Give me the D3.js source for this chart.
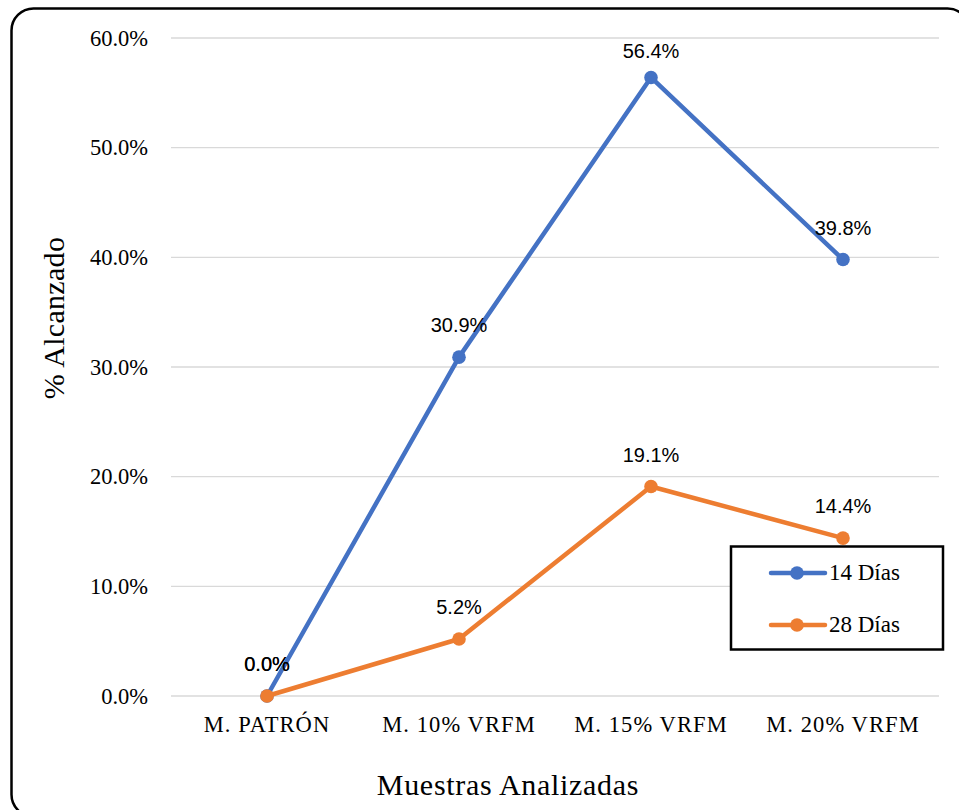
<!DOCTYPE html>
<html><head><meta charset="utf-8">
<script src="https://cdn.jsdelivr.net/npm/d3@7"></script>
<style>body{margin:0;background:#fff}svg{display:block}</style>
</head><body>
<script>
const categories = ["M. PATRÓN", "M. 10% VRFM", "M. 15% VRFM", "M. 20% VRFM"];
const series14 = [0.0, 30.9, 56.4, 39.8];
const series28 = [0.0, 5.2, 19.1, 14.4];
const seriesNames = ["14 Días", "28 Días"];
const yTicks = [0, 10, 20, 30, 40, 50, 60];

const W = 959, H = 810;
const svg = d3.select("body").append("svg").attr("width", W).attr("height", H);

svg.append("rect").attr("x", 11.5).attr("y", 8.5).attr("width", 958).attr("height", 808)
  .attr("rx", 22).attr("fill", "#fff").attr("stroke", "#000").attr("stroke-width", 2.5);

const x = d3.scaleBand().domain(categories).range([171, 939]);
const y = d3.scaleLinear().domain([0, 60]).range([696, 38]);
const cx = d => x(d) + x.bandwidth() / 2;

const serif = "'Liberation Serif','Times New Roman',serif";
const sans = "'Liberation Sans Narrow','Liberation Sans',Arial,sans-serif";

// gridlines
svg.append("g").selectAll("line").data(yTicks).join("line")
  .attr("x1", 171).attr("x2", 939).attr("y1", d => y(d)).attr("y2", d => y(d))
  .attr("stroke", "#d9d9d9").attr("stroke-width", 1.3);

// y axis labels
const yAxis = d3.axisLeft(y).tickValues(yTicks).tickSize(0).tickPadding(0)
  .tickFormat(d => d.toFixed(1) + "%");
const ya = svg.append("g").attr("transform", "translate(148,0)").call(yAxis);
ya.select(".domain").remove();
ya.selectAll("text").attr("font-family", serif).attr("font-size", 22.5).attr("fill", "#000");

// x axis labels
const xAxis = d3.axisBottom(x).tickSize(0).tickPadding(0);
const xa = svg.append("g").attr("transform", "translate(0,716)").call(xAxis);
xa.select(".domain").remove();
xa.selectAll("text").attr("font-family", serif).attr("font-size", 22.5)
  .attr("letter-spacing", 1.1).attr("fill", "#000");

// axis titles
svg.append("text").attr("x", 508).attr("y", 795).attr("text-anchor", "middle")
  .attr("font-family", serif).attr("font-size", 30).attr("letter-spacing", 0.7)
  .text("Muestras Analizadas");
svg.append("text").attr("transform", "translate(64,318) rotate(-90)").attr("text-anchor", "middle")
  .attr("font-family", serif).attr("font-size", 30).attr("letter-spacing", 0.3).text("% Alcanzado");

const colors = ["#4472C4", "#ED7D31"];
const allSeries = [series14, series28];
const line = d3.line().x((d, i) => cx(categories[i])).y(d => y(d));

allSeries.forEach((s, k) => {
  const g = svg.append("g");
  g.append("path").datum(s).attr("d", line).attr("fill", "none")
    .attr("stroke", colors[k]).attr("stroke-width", 4.5).attr("stroke-linejoin", "round");
  g.selectAll("circle").data(s).join("circle")
    .attr("cx", (d, i) => cx(categories[i])).attr("cy", d => y(d)).attr("r", 6.8)
    .attr("fill", colors[k]);
});

// data labels (kept inside the plot area at the top)
allSeries.forEach((s, k) => {
  svg.append("g").selectAll("text").data(s).join("text")
    .attr("x", (d, i) => cx(categories[i]))
    .attr("y", d => Math.max(y(d) - 25, y(60) + 20))
    .attr("text-anchor", "middle").attr("font-family", sans).attr("font-size", 20)
    .attr("fill", "#000").text(d => d.toFixed(1) + "%");
});

// legend
const lg = svg.append("g");
lg.append("rect").attr("x", 731).attr("y", 546.5).attr("width", 212).attr("height", 103)
  .attr("fill", "#fff").attr("stroke", "#000").attr("stroke-width", 2.5);
seriesNames.forEach((n, k) => {
  const ly = 573 + k * 52;
  lg.append("line").attr("x1", 771).attr("x2", 825).attr("y1", ly).attr("y2", ly)
    .attr("stroke", colors[k]).attr("stroke-width", 4.5).attr("stroke-linecap", "round");
  lg.append("circle").attr("cx", 797).attr("cy", ly).attr("r", 6.8).attr("fill", colors[k]);
  lg.append("text").attr("x", 829).attr("y", ly + 7).attr("font-family", serif)
    .attr("font-size", 23).text(n);
});
</script>
</body></html>
